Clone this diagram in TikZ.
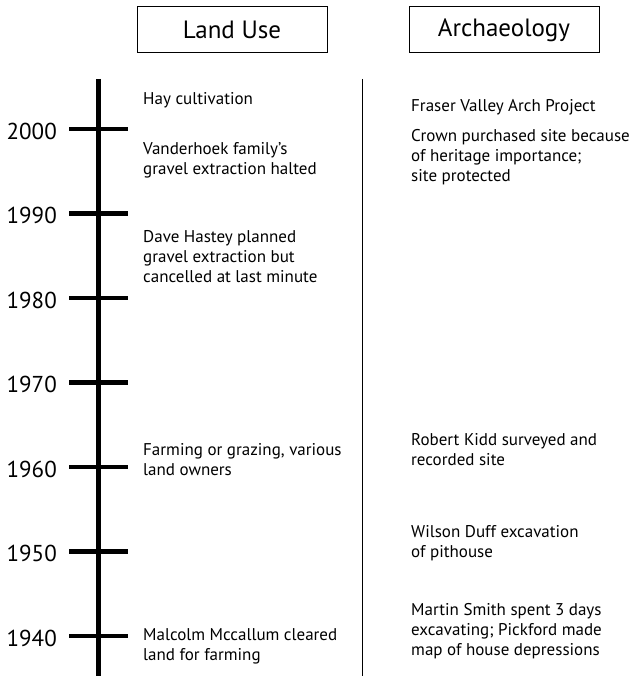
\documentclass[tikz,border=0pt]{standalone}
\usepackage{fontspec}
\setmainfont{PT Sans}
\begin{document}
\begin{tikzpicture}[x=1pt, y=-1pt]

\tikzstyle{hd}=[draw, line width=1pt, minimum width=190pt, minimum height=46pt, font=\fontsize{25}{25}\selectfont];
\tikzstyle{yr}=[anchor=east, inner sep=0pt, font=\fontsize{23}{23}\selectfont];
\tikzstyle{ev}=[anchor=base west, align=left, inner sep=0pt, font=\fontsize{17}{20}\selectfont];
\tikzstyle{bar}=[line width=4.3pt];

\useasboundingbox (0, 0) rectangle (633, 676);

\node[hd] (landuse) at (232, 30) {Land Use};
\node[hd] (arch) at (504, 30) {Archaeology};

% timeline and ticks
\coordinate (top) at (98.5, 79);
\coordinate (bottom) at (98.5, 676);
\draw[bar] (top) -- (bottom);

\foreach \yr [count=\i from 0] in {2000, 1990, 1980, 1970, 1960, 1950, 1940} {
  \coordinate (l\yr) at (69, 129 + 84.5*\i);
  \coordinate (r\yr) at (128, 129 + 84.5*\i);
  \draw[bar] (l\yr) -- (r\yr);
  \node[yr] (y\yr) at (57, 131 + 84.5*\i) {\yr};
}

% divider
\coordinate (dtop) at (362.5, 79);
\coordinate (dbottom) at (362.5, 676);
\draw[line width=1.6pt] (dtop) -- (dbottom);

% land use (placed at baseline of last line)
\node[ev] (hay) at (143, 105) {Hay cultivation};
\node[ev] (vdh) at (143, 175) {Vanderhoek family’s\\gravel extraction halted};
\node[ev] (dave) at (143, 282) {Dave Hastey planned\\gravel extraction but\\cancelled at last minute};
\node[ev] (farm) at (143, 475) {Farming or grazing, various\\land owners};
\node[ev] (malc) at (143, 660) {Malcolm Mccallum cleared\\land for farming};

% archaeology
\node[ev] (fva) at (411, 112) {Fraser Valley Arch Project};
\node[ev] (crown) at (411, 182) {Crown purchased site because\\of heritage importance;\\site protected};
\node[ev] (kidd) at (411, 465) {Robert Kidd surveyed and\\recorded site};
\node[ev] (duff) at (411, 557) {Wilson Duff excavation\\of pithouse};
\node[ev] (smith) at (411, 655) {Martin Smith spent 3 days\\excavating; Pickford made\\map of house depressions};

\end{tikzpicture}
\end{document}
